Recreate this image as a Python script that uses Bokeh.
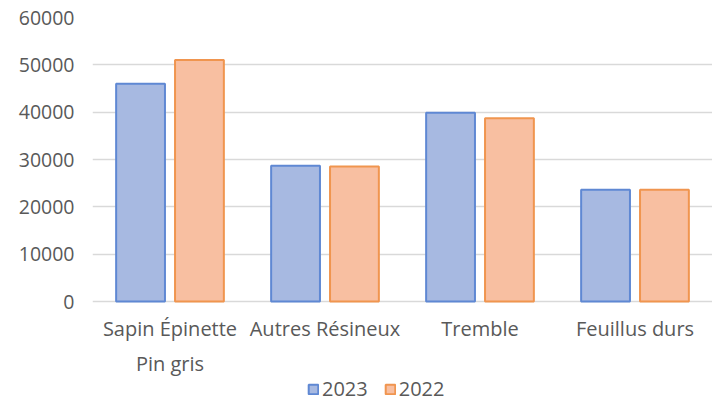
from bokeh.plotting import figure
from bokeh.models import ColumnDataSource, FactorRange, Range1d, Legend, LegendItem, FixedTicker
from bokeh.transform import dodge
from bokeh.core.properties import value
from bokeh.embed import file_html
from bokeh.resources import INLINE

categories = ["Sapin Épinette\nPin gris", "Autres Résineux", "Tremble", "Feuillus durs"]
series_names = ["2023", "2022"]
values_2023 = [46000, 28700, 39900, 23600]
values_2022 = [51000, 28500, 38700, 23600]
y_ticks = [0, 10000, 20000, 30000, 40000, 50000, 60000]

FONT = "Open Sans"
TEXT_COLOR = "#595959"
GRID_COLOR = "#d9d9d9"

Y_MAX = 60000
FRAME_H = 385
PLOT_H = 284  # pixels between 0 and Y_MAX
y_min = Y_MAX - FRAME_H * Y_MAX / PLOT_H  # room below the axis for labels and legend

source = ColumnDataSource(data=dict(cat=categories, v2023=values_2023, v2022=values_2022))

p = figure(
    x_range=FactorRange(*categories, range_padding=0),
    y_range=Range1d(y_min, Y_MAX),
    frame_width=620, frame_height=FRAME_H,
    x_axis_location=None,
    output_backend="svg", toolbar_location=None,
    min_border_left=92, min_border_right=0, min_border_top=17, min_border_bottom=0,
)
p.outline_line_color = None

r1 = p.vbar(x=dodge("cat", -0.19, range=p.x_range), top="v2023", bottom=0, width=0.315, source=source,
            fill_color="#a7b9e1", line_color="#5f88d3", line_width=2)
r2 = p.vbar(x=dodge("cat", 0.19, range=p.x_range), top="v2022", bottom=0, width=0.315, source=source,
            fill_color="#f8bfa1", line_color="#f0954f", line_width=2)

# category labels under the axis
p.text(x="cat", y=0, text="cat", source=source, y_offset=13,
       text_align="center", text_baseline="top",
       text_font=value(FONT), text_font_size="20px", text_color=TEXT_COLOR,
       text_line_height=1.3)

p.xgrid.grid_line_color = None
p.ygrid.grid_line_color = GRID_COLOR
p.ygrid.grid_line_width = 1.5
p.yaxis.ticker = FixedTicker(ticks=y_ticks)
p.ygrid.ticker = FixedTicker(ticks=y_ticks)

p.yaxis.axis_line_color = None
p.yaxis.major_tick_line_color = None
p.yaxis.minor_tick_line_color = None
p.yaxis.major_label_text_font = FONT
p.yaxis.major_label_text_font_size = "19.5px"
p.yaxis.major_label_text_color = TEXT_COLOR
p.yaxis.major_label_standoff = 12

legend = Legend(items=[LegendItem(label=series_names[0], renderers=[r1]),
                       LegendItem(label=series_names[1], renderers=[r2])],
                orientation="horizontal", location=(215, 0))
legend.label_text_font = FONT
legend.label_text_font_size = "20px"
legend.label_text_color = TEXT_COLOR
legend.glyph_width = 12
legend.glyph_height = 12
legend.label_standoff = 3
legend.spacing = 16
legend.label_height = 20
legend.border_line_color = None
legend.background_fill_alpha = 0
legend.padding = 0
legend.margin = 0
p.add_layout(legend)

open("out.html", "w").write(file_html(p, INLINE))
